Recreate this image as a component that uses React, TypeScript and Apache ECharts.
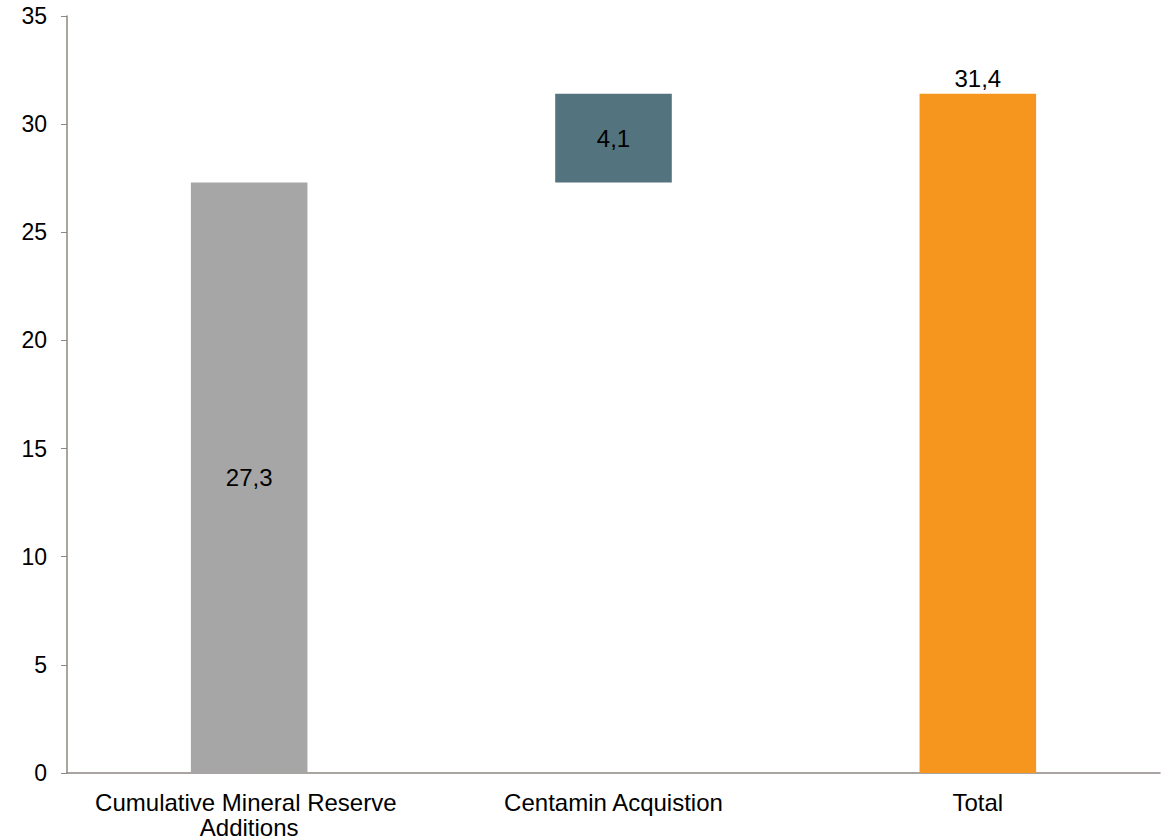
import React, { useEffect, useRef } from "react";
import * as echarts from "echarts";

const categories = ["Cumulative Mineral Reserve Additions", "Centamin Acquistion", "Total"];
const baseValues = [0, 27.3, 0];
const barValues = [27.3, 4.1, 31.4];
const barColors = ["#A6A6A6", "#53737F", "#F7961F"];
const labelPositions = ["inside", "inside", "top"];
const yTicks = { min: 0, max: 35, interval: 5 };

export default function App() {
  const ref = useRef<HTMLDivElement>(null);
  useEffect(() => {
    if (!ref.current) return;
    const chart = echarts.init(ref.current, null, { renderer: "svg" });
    const fmt = (v: number) => v.toFixed(1).replace(".", ",");
    chart.setOption({
      animation: false,
      backgroundColor: "#ffffff",
      textStyle: { fontFamily: "Liberation Sans, Arial, sans-serif" },
      grid: { left: 67, right: 5, top: 16, bottom: 67 },
      xAxis: {
        type: "category",
        data: categories,
        axisLine: { lineStyle: { color: "#8d8782", width: 1.5 } },
        axisTick: { show: false },
        axisLabel: {
          color: "#000",
          fontSize: 24,
          margin: 17,
          lineHeight: 25,
          width: 330,
          overflow: "break",
          interval: 0,
        },
      },
      yAxis: {
        type: "value",
        min: yTicks.min,
        max: yTicks.max,
        interval: yTicks.interval,
        axisLine: { show: true, lineStyle: { color: "#8d8782", width: 1.5 } },
        axisTick: { show: true, length: 6, lineStyle: { color: "#8d8782" } },
        splitLine: { show: false },
        axisLabel: { color: "#000", fontSize: 23, margin: 20 },
      },
      series: [
        {
          type: "bar",
          stack: "w",
          data: baseValues,
          barWidth: "32%",
          itemStyle: { color: "transparent" },
          silent: true,
        },
        {
          type: "bar",
          stack: "w",
          barWidth: "32%",
          data: barValues.map((v, i) => ({
            value: v,
            itemStyle: { color: barColors[i] },
            label: {
              show: true,
              position: labelPositions[i],
              color: "#000",
              fontSize: 24,
              distance: 3,
              formatter: () => fmt(v),
            },
          })),
        },
      ],
    });
    return () => chart.dispose();
  }, []);
  return (
    <div
      ref={ref}
      style={{ position: "absolute", left: 0, top: 0, width: 1165, height: 840 }}
    />
  );
}
